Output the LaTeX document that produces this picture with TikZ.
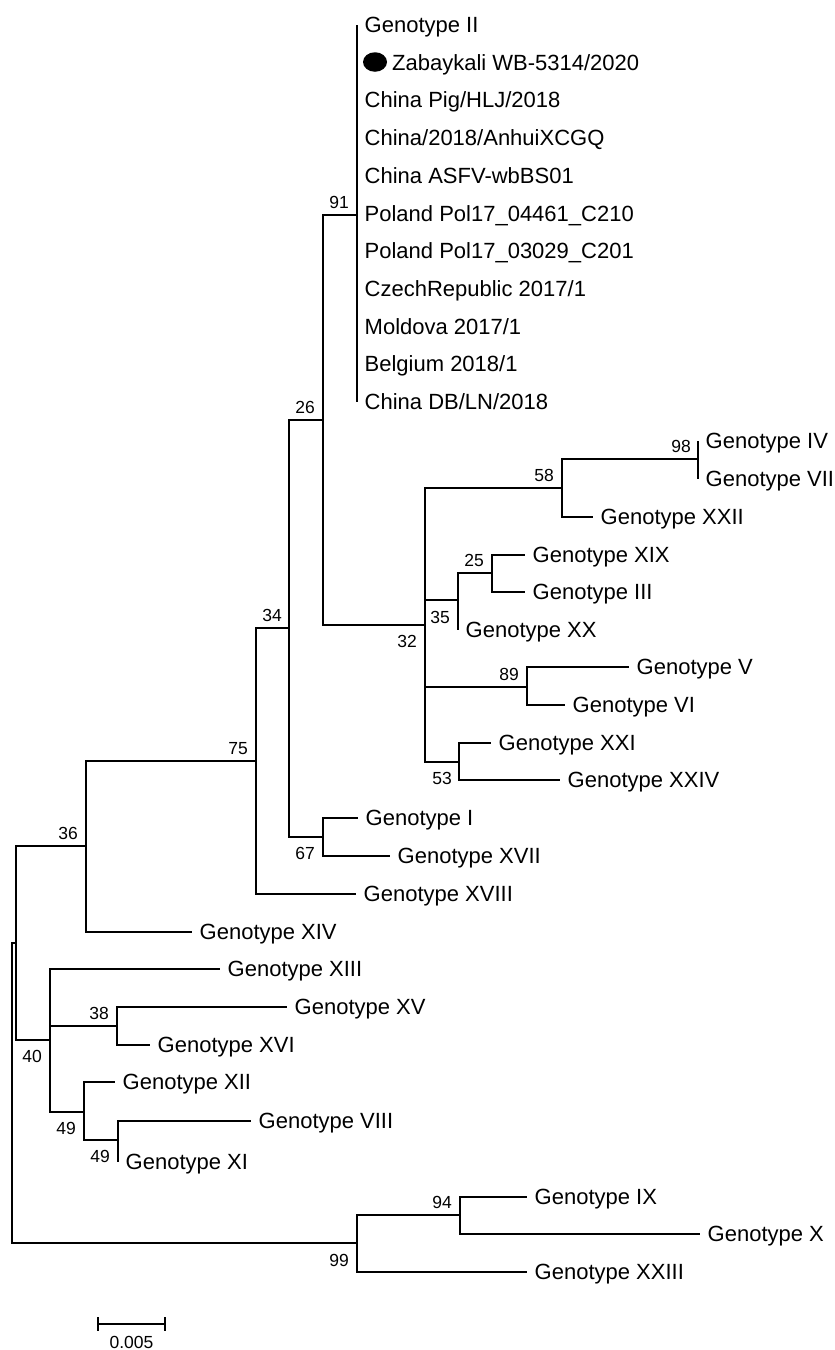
\documentclass[tikz,border=0pt]{standalone}
\usepackage{fontspec}
\setmainfont{Liberation Sans}
\usetikzlibrary{shapes.geometric}
\newcommand\Leaf[4]{\coordinate (l#1) at (#2,#3); \node[leaf] (t#1) at ([xshift=7.5pt,yshift=-7.5pt]l#1) {#4};}
\begin{document}
\begin{tikzpicture}[x=1pt,y=-1pt,
  br/.style={line width=1.7pt},
  leaf/.style={anchor=base west,inner sep=0pt,font=\fontsize{22}{26}\selectfont},
  bsa/.style={anchor=south east,inner sep=0pt,font=\fontsize{17.5}{20}\selectfont},
  bsb/.style={anchor=north east,inner sep=0pt,font=\fontsize{17.5}{20}\selectfont}]
\useasboundingbox (0,0) rectangle (835,1350);

% internal nodes
\coordinate (A) at (357,215);
\coordinate (B) at (323,420);
\coordinate (C) at (425,625);
\coordinate (D) at (562,488);
\coordinate (E) at (698,459);
\coordinate (F) at (458,600);
\coordinate (G) at (492,573);
\coordinate (H) at (527,687);
\coordinate (I) at (459,762);
\coordinate (J) at (289,628);
\coordinate (K) at (323,837);
\coordinate (L) at (256,761);
\coordinate (M) at (86,846);
\coordinate (N) at (16,943);
\coordinate (O) at (50,1040);
\coordinate (P) at (117,1026);
\coordinate (Q) at (84,1112);
\coordinate (R) at (118,1140);
\coordinate (Root) at (12,1093);
\coordinate (S) at (357,1243);
\coordinate (T) at (460,1215);

% leaves
\Leaf{II}{357}{25}{Genotype II}
\coordinate (lZab) at (357,62.7);
\node[leaf] (tZab) at (392,70.2) {Zabaykali WB-5314/2020};
\node[fill=black,ellipse,inner sep=0pt,minimum width=24pt,minimum height=19.5pt] (dot) at (375,62) {};
\Leaf{Pig}{357}{100.4}{China Pig/HLJ/2018}
\Leaf{Anh}{357}{138.1}{China/2018/AnhuiXCGQ}
\Leaf{wb}{357}{175.8}{China ASFV-wbBS01}
\Leaf{PolA}{357}{213.5}{Poland Pol17\_04461\_C210}
\Leaf{PolB}{357}{251.2}{Poland Pol17\_03029\_C201}
\Leaf{Cz}{357}{288.9}{CzechRepublic 2017/1}
\Leaf{Mol}{357}{326.6}{Moldova 2017/1}
\Leaf{Bel}{357}{364.3}{Belgium 2018/1}
\Leaf{DB}{357}{402}{China DB/LN/2018}
\Leaf{IV}{698}{441}{Genotype IV}
\Leaf{VII}{698}{479}{Genotype VII}
\Leaf{XXII}{593}{517}{Genotype XXII}
\Leaf{XIX}{525}{555}{Genotype XIX}
\Leaf{III}{525}{592}{Genotype III}
\Leaf{XX}{458}{630}{Genotype XX}
\Leaf{V}{629}{667}{Genotype V}
\Leaf{VI}{565}{705}{Genotype VI}
\Leaf{XXI}{491}{743}{Genotype XXI}
\Leaf{XXIV}{560}{780}{Genotype XXIV}
\Leaf{I}{358}{818}{Genotype I}
\Leaf{XVII}{390}{856}{Genotype XVII}
\Leaf{XVIII}{356}{894}{Genotype XVIII}
\Leaf{XIV}{192}{932}{Genotype XIV}
\Leaf{XIII}{220}{969}{Genotype XIII}
\Leaf{XV}{287}{1007}{Genotype XV}
\Leaf{XVI}{150}{1045}{Genotype XVI}
\Leaf{XII}{115}{1082}{Genotype XII}
\Leaf{VIII}{251}{1121}{Genotype VIII}
\Leaf{XI}{118}{1162}{Genotype XI}
\Leaf{IX}{527}{1197}{Genotype IX}
\Leaf{X}{700}{1234}{Genotype X}
\Leaf{XXIII}{527}{1272}{Genotype XXIII}

% branches
\foreach \t in {II,Zab,Pig,Anh,wb,PolA,PolB,Cz,Mol,Bel,DB} \draw[br] (A) |- (l\t);
\draw[br] (B) |- (A); \draw[br] (B) |- (C);
\draw[br] (C) |- (D); \draw[br] (C) |- (F); \draw[br] (C) |- (H); \draw[br] (C) |- (I);
\draw[br] (D) |- (E); \draw[br] (D) |- (lXXII);
\draw[br] (E) |- (lIV); \draw[br] (E) |- (lVII);
\draw[br] (F) |- (G); \draw[br] (F) |- (lXX);
\draw[br] (G) |- (lXIX); \draw[br] (G) |- (lIII);
\draw[br] (H) |- (lV); \draw[br] (H) |- (lVI);
\draw[br] (I) |- (lXXI); \draw[br] (I) |- (lXXIV);
\draw[br] (J) |- (B); \draw[br] (J) |- (K);
\draw[br] (K) |- (lI); \draw[br] (K) |- (lXVII);
\draw[br] (L) |- (J); \draw[br] (L) |- (lXVIII);
\draw[br] (M) |- (L); \draw[br] (M) |- (lXIV);
\draw[br] (N) |- (M); \draw[br] (N) |- (O);
\draw[br] (O) |- (lXIII); \draw[br] (O) |- (P); \draw[br] (O) |- (Q);
\draw[br] (P) |- (lXV); \draw[br] (P) |- (lXVI);
\draw[br] (Q) |- (lXII); \draw[br] (Q) |- (R);
\draw[br] (R) |- (lVIII); \draw[br] (R) |- (lXI);
\draw[br] (Root) |- (N); \draw[br] (Root) |- (S);
\draw[br] (S) |- (T); \draw[br] (S) |- (lXXIII);
\draw[br] (T) |- (lIX); \draw[br] (T) |- (lX);

% bootstrap values
\node[bsa] (bA) at ([xshift=-8pt,yshift=6.5pt]A) {91};
\node[bsa] (bB) at ([xshift=-8pt,yshift=6.5pt]B) {26};
\node[bsb] (bC) at ([xshift=-8pt,yshift=-10pt]C) {32};
\node[bsa] (bD) at ([xshift=-8pt,yshift=6.5pt]D) {58};
\node[bsa] (bE) at ([xshift=-7pt,yshift=6.5pt]E) {98};
\node[bsb] (bF) at ([xshift=-8pt,yshift=-11pt]F) {35};
\node[bsa] (bG) at ([xshift=-8pt,yshift=6.5pt]G) {25};
\node[bsa] (bH) at ([xshift=-8pt,yshift=6.5pt]H) {89};
\node[bsb] (bI) at ([xshift=-7pt,yshift=-10pt]I) {53};
\node[bsa] (bJ) at ([xshift=-7pt,yshift=6.5pt]J) {34};
\node[bsb] (bK) at ([xshift=-8pt,yshift=-10pt]K) {67};
\node[bsa] (bL) at ([xshift=-8pt,yshift=6.5pt]L) {75};
\node[bsa] (bM) at ([xshift=-8pt,yshift=6.5pt]M) {36};
\node[bsb] (bO) at ([xshift=-8pt,yshift=-10pt]O) {40};
\node[bsa] (bP) at ([xshift=-8pt,yshift=6.5pt]P) {38};
\node[bsb] (bQ) at ([xshift=-8pt,yshift=-10pt]Q) {49};
\node[bsb] (bR) at ([xshift=-8pt,yshift=-10pt]R) {49};
\node[bsb] (bS) at ([xshift=-8pt,yshift=-11pt]S) {99};
\node[bsa] (bT) at ([xshift=-8pt,yshift=6.5pt]T) {94};

% scale bar
\coordinate (sb1) at (98,1324);
\coordinate (sb2) at (165,1324);
\draw[br] (sb1) -- (sb2);
\draw[br] ([yshift=7pt]sb1) -- ([yshift=-7pt]sb1);
\draw[br] ([yshift=7pt]sb2) -- ([yshift=-7pt]sb2);
\node[anchor=base,inner sep=0pt,font=\fontsize{17.5}{20}\selectfont] (sbl) at (131.5,1348.5) {0.005};
\end{tikzpicture}
\end{document}
